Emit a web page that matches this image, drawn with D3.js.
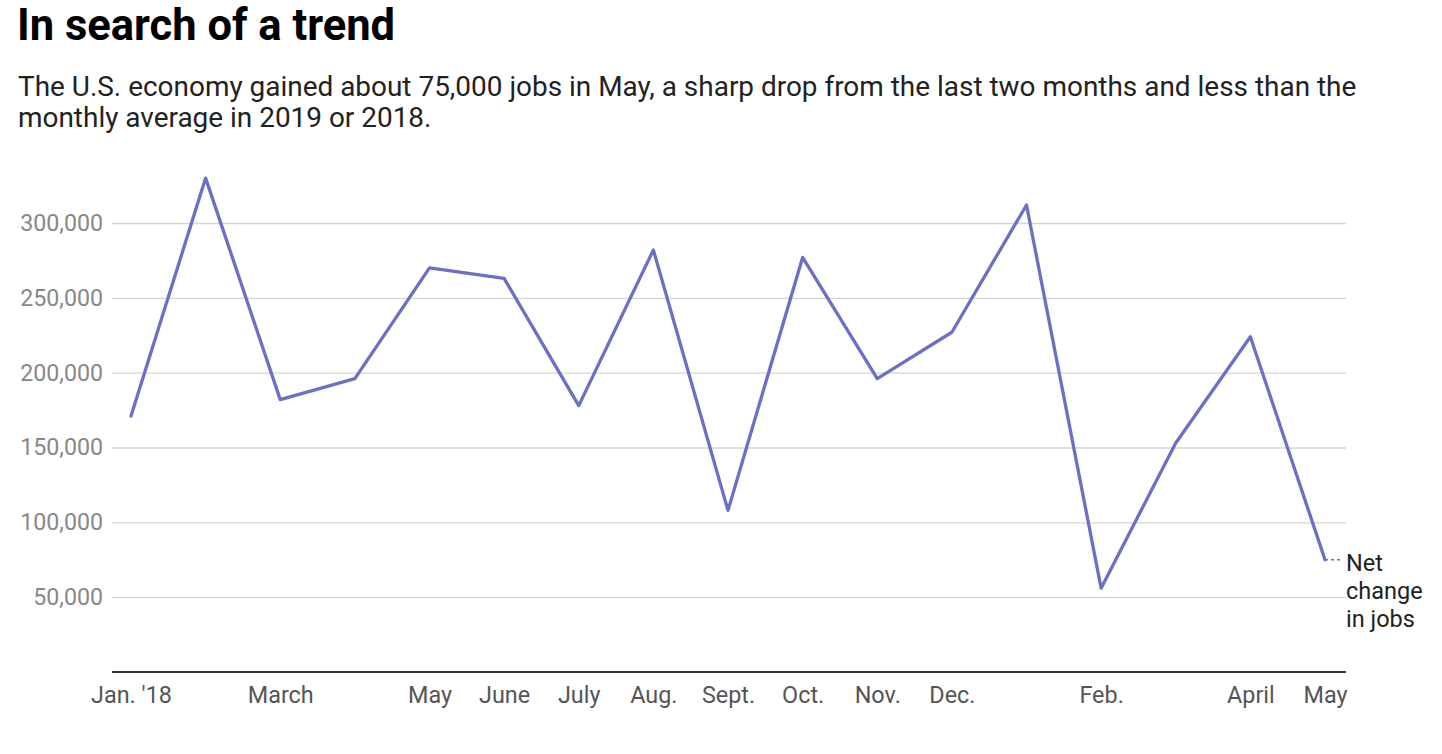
<!DOCTYPE html>
<html><head><meta charset="utf-8">
<script src="https://cdn.jsdelivr.net/npm/d3@7"></script>
<style>
body{margin:0;background:#fff;font-family:Roboto,"Noto Sans",sans-serif;}
</style></head>
<body><svg id="c" width="1442" height="754"></svg>
<script>
const months = ["2018-01","2018-02","2018-03","2018-04","2018-05","2018-06","2018-07","2018-08","2018-09","2018-10","2018-11","2018-12","2019-01","2019-02","2019-03","2019-04","2019-05"];
const jobs = [171000,330000,182000,196000,270000,263000,178000,282000,108000,277000,196000,227000,312000,56000,153000,224000,75000];
const tickMonths = ["2018-01","2018-03","2018-05","2018-06","2018-07","2018-08","2018-09","2018-10","2018-11","2018-12","2019-02","2019-04","2019-05"];
const tickLabels = ["Jan. '18","March","May","June","July","Aug.","Sept.","Oct.","Nov.","Dec.","Feb.","April","May"];
const yTicks = [50000,100000,150000,200000,250000,300000];
const title = "In search of a trend";
const subtitle = ["The U.S. economy gained about 75,000 jobs in May, a sharp drop from the last two months and less than the","monthly average in 2019 or 2018."];
const seriesLabel = ["Net","change","in jobs"];

const svg = d3.select("#c");
const left = 112, right = 1346;
const x = d3.scalePoint().domain(months).range([131, 1325]);
const y = d3.scaleLinear().domain([0, 300000]).range([672, 223]);

svg.append("text").attr("x",17).attr("y",40).attr("font-size",43.5).attr("font-weight",700).attr("fill","#000").text(title);
svg.append("text").attr("x",18).attr("y",96).attr("font-size",27.95).attr("fill","#222")
  .selectAll("tspan").data(subtitle).join("tspan").attr("x",18).attr("dy",(d,i)=>i?31:0).text(d=>d);

const yAxis = svg.append("g").attr("transform",`translate(${left},0)`)
  .call(d3.axisLeft(y).tickValues(yTicks).tickSize(-(right-left)).tickPadding(9).tickFormat(d3.format(",")));
yAxis.select(".domain").remove();
yAxis.selectAll("line").attr("stroke","#d6d6d6").attr("stroke-width",1.3);
yAxis.selectAll("text").attr("font-size",23.2).attr("fill","#888").attr("font-family","Roboto");

const xAxis = svg.append("g").attr("transform","translate(0,672)")
  .call(d3.axisBottom(x).tickValues(tickMonths).tickSize(0).tickPadding(14)
    .tickFormat(d=>tickLabels[tickMonths.indexOf(d)]));
xAxis.select(".domain").remove();
xAxis.selectAll("text").attr("font-size",23.4).attr("fill","#555").attr("font-family","Roboto");
svg.append("line").attr("x1",left).attr("x2",right).attr("y1",672).attr("y2",672).attr("stroke","#333").attr("stroke-width",2);

const data = months.map((m,i)=>({m, v:jobs[i]}));
const line = d3.line().x(d=>x(d.m)).y(d=>y(d.v));
svg.append("path").datum(data).attr("d",line).attr("fill","none").attr("stroke","#6b70c2").attr("stroke-width",3.3).attr("stroke-linejoin","round").attr("stroke-linecap","round");

const last = data[data.length-1];
svg.append("line").attr("x1",x(last.m)).attr("x2",x(last.m)+16).attr("y1",y(last.v)).attr("y2",y(last.v))
  .attr("stroke","#6b70c2").attr("stroke-width",1.5).attr("stroke-dasharray","3,3");
svg.append("text").attr("x",1346).attr("y",y(last.v)+11).attr("font-size",23.5).attr("fill","#222")
  .selectAll("tspan").data(seriesLabel).join("tspan").attr("x",1346).attr("dy",(d,i)=>i?28:0).text(d=>d);
</script></body></html>
